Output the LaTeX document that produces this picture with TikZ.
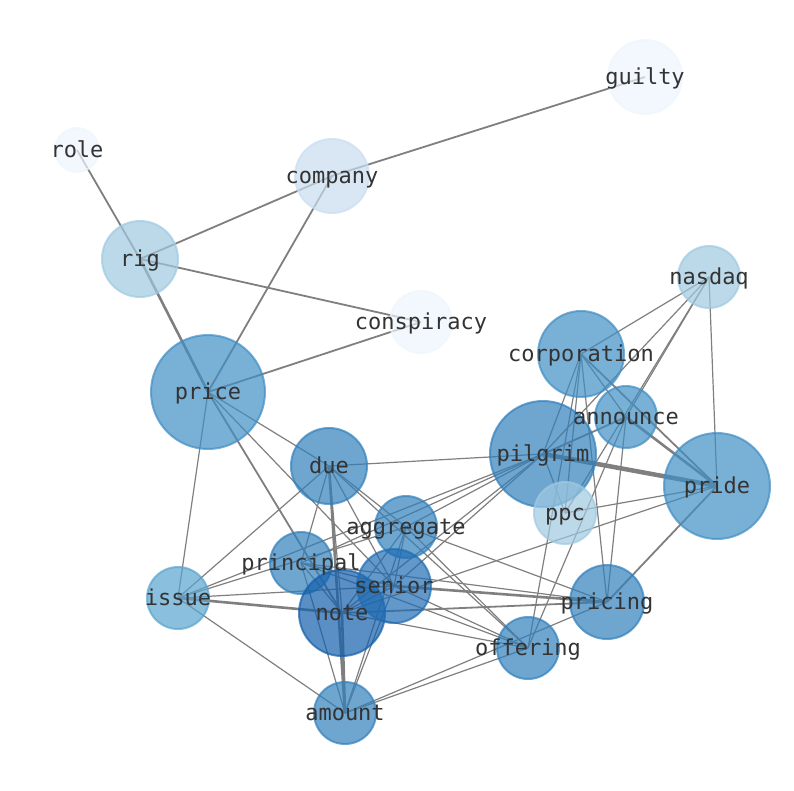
\documentclass[tikz,border=0pt]{standalone}
\usepackage{fontspec}
\setmonofont{DejaVu Sans Mono}
\pgfdeclarelayer{edges}
\pgfsetlayers{edges,main}
\definecolor{cA}{HTML}{EDF5FC}
\definecolor{cB}{HTML}{C9DDF0}
\definecolor{cC}{HTML}{9FC9E1}
\definecolor{cD}{HTML}{59A4CE}
\definecolor{cE}{HTML}{408EC4}
\definecolor{cF}{HTML}{3180BC}
\definecolor{cG}{HTML}{206DB3}
\definecolor{cH}{HTML}{135FAB}
\definecolor{labelc}{HTML}{333333}
\definecolor{edgec}{HTML}{7F7F7F}
\tikzset{
  vtx/.style={circle, inner sep=0pt, outer sep=0pt, line width=2pt, fill opacity=0.7, draw opacity=0.7},
  lbl/.style={font=\ttfamily\fontsize{22}{26}\selectfont, text=labelc, inner sep=0pt, text height=18.5pt, text depth=3.5pt},
  ethin/.style={draw=edgec, line width=1.2pt},
  emed/.style={draw=edgec, line width=1.8pt},
  ethick/.style={draw=edgec, line width=2.6pt},
  evthick/.style={draw=edgec, line width=4.5pt}
}
\begin{document}
\begin{tikzpicture}[x=1pt,y=-1pt]
\useasboundingbox (0,0) rectangle (794,790);
% nodes
\node[vtx, fill=cA, draw=cA, minimum size=74pt] (guilty) at (645,77) {};
\node[vtx, fill=cA, draw=cA, minimum size=44pt] (role) at (77,150) {};
\node[vtx, fill=cB, draw=cB, minimum size=74pt] (company) at (332,176) {};
\node[vtx, fill=cC, draw=cC, minimum size=76pt] (rig) at (140,259) {};
\node[vtx, fill=cC, draw=cC, minimum size=62pt] (nasdaq) at (709,277) {};
\node[vtx, fill=cA, draw=cA, minimum size=62pt] (conspiracy) at (421,322) {};
\node[vtx, fill=cE, draw=cE, minimum size=86pt] (corporation) at (581,354) {};
\node[vtx, fill=cE, draw=cE, minimum size=114pt] (price) at (208,392) {};
\node[vtx, fill=cE, draw=cE, minimum size=62pt] (announce) at (626,417) {};
\node[vtx, fill=cF, draw=cF, minimum size=106pt] (pilgrim) at (543,454) {};
\node[vtx, fill=cF, draw=cF, minimum size=76pt] (due) at (329,466) {};
\node[vtx, fill=cE, draw=cE, minimum size=106pt] (pride) at (717,486) {};
\node[vtx, fill=cC, draw=cC, minimum size=62pt] (ppc) at (565,513) {};
\node[vtx, fill=cF, draw=cF, minimum size=62pt] (aggregate) at (406,527) {};
\node[vtx, fill=cF, draw=cF, minimum size=62pt] (principal) at (301,563) {};
\node[vtx, fill=cD, draw=cD, minimum size=62pt] (issue) at (178,598) {};
\node[vtx, fill=cH, draw=cH, minimum size=86pt] (note) at (342,613) {};
\node[vtx, fill=cG, draw=cG, minimum size=74pt] (senior) at (394,586) {};
\node[vtx, fill=cF, draw=cF, minimum size=74pt] (pricing) at (607,602) {};
\node[vtx, fill=cF, draw=cF, minimum size=62pt] (offering) at (528,648) {};
\node[vtx, fill=cF, draw=cF, minimum size=62pt] (amount) at (345,713) {};
% labels
\foreach \n in {guilty,role,company,rig,nasdaq,conspiracy,corporation,price,announce,pilgrim,due,pride,ppc,aggregate,principal,issue,note,senior,pricing,offering,amount}
  \node[lbl] (\n-l) at (\n.center) {\n};
% edges
\begin{pgfonlayer}{edges}
\foreach \a/\b in {guilty/company, rig/company, company/price, rig/conspiracy, conspiracy/price, role/rig}
  \draw[emed] (\a.center) -- (\b.center);
\draw[ethick] (rig.center) -- (price.center);
\foreach \a/\b in {price/due, price/issue, price/senior,
  due/pilgrim, due/issue, due/principal, due/senior, due/note, due/offering, due/aggregate,
  issue/pilgrim, issue/aggregate, issue/senior, issue/amount,
  principal/pilgrim, principal/senior, principal/note, principal/offering, principal/amount, principal/pricing,
  senior/aggregate, senior/note, senior/offering, senior/amount, senior/pilgrim,
  note/offering, note/aggregate, note/pilgrim, pride/note,
  aggregate/pilgrim, aggregate/pricing, aggregate/offering, aggregate/amount,
  pilgrim/corporation, pilgrim/ppc, pilgrim/nasdaq,
  corporation/nasdaq, corporation/ppc, corporation/announce, corporation/pricing, corporation/offering,
  announce/nasdaq, announce/pricing, announce/offering,
  pride/nasdaq, pride/ppc, nasdaq/ppc, pricing/amount, offering/amount}
  \draw[ethin] (\a.center) -- (\b.center);
\foreach \a/\b in {price/note, note/pricing, corporation/pride, pilgrim/announce, pride/pricing}
  \draw[emed] (\a.center) -- (\b.center);
\foreach \a/\b in {due/amount, issue/note, senior/pricing, note/amount, announce/pride}
  \draw[ethick] (\a.center) -- (\b.center);
\draw[evthick] (pilgrim.center) -- (pride.center);
\end{pgfonlayer}
\end{tikzpicture}
\end{document}
